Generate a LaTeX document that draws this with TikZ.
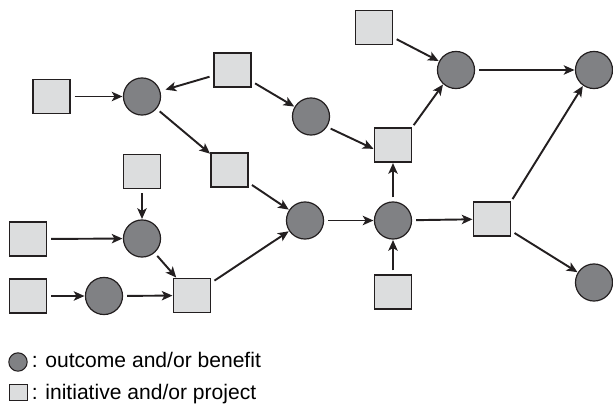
\documentclass[tikz,border=0pt]{standalone}
\usepackage{fontspec}
\setmainfont{Liberation Sans}
\usetikzlibrary{arrows.meta}
\definecolor{sqfill}{HTML}{DCDDDE}
\definecolor{cifill}{HTML}{808184}
\definecolor{edge}{HTML}{231F20}
\tikzset{
  sq/.style={draw=edge, line width=0.9pt, fill=sqfill, minimum width=27.8pt, minimum height=25.6pt, inner sep=0pt},
  ci/.style={circle, draw=edge, line width=0.9pt, fill=cifill, minimum size=27.8pt, inner sep=0pt},
  lsq/.style={draw=edge, line width=0.8pt, fill=sqfill, minimum width=13.6pt, minimum height=12.2pt, inner sep=0pt},
  lci/.style={circle, draw=edge, line width=0.8pt, fill=cifill, minimum size=13.8pt, inner sep=0pt},
  arr/.style={draw=edge, line width=1.45pt, -{Stealth[length=8pt,width=7pt,inset=2pt]}, shorten <=3pt, shorten >=0.3pt},
  lab/.style={anchor=base west, inner sep=0pt, font=\fontsize{15.8}{18}\selectfont}
}
\begin{document}
\begin{tikzpicture}[x=0.75pt,y=-0.75pt]
\useasboundingbox (0,0) rectangle (613,403);
% nodes
\node[sq] (A) at (51.5,96.5) {};
\node[ci] (C1) at (142,96.5) {};
\node[sq] (B) at (232.5,70) {};
\node[ci] (C2) at (311,116.5) {};
\node[sq] (D) at (229.5,170) {};
\node[sq] (E) at (142,171.5) {};
\node[sq] (F) at (374,27.5) {};
\node[ci] (C3) at (456,70) {};
\node[ci] (C4) at (594,70) {};
\node[sq] (G) at (393,145) {};
\node[sq] (H) at (28,239) {};
\node[ci] (C5) at (142,238.5) {};
\node[sq] (I) at (28,296) {};
\node[ci] (C6) at (104,296) {};
\node[sq] (J) at (192,295.5) {};
\node[ci] (C7) at (305,220.5) {};
\node[ci] (C8) at (393,220.5) {};
\node[sq] (K) at (492,219) {};
\node[sq] (L) at (393,292) {};
\node[ci] (C9) at (594,282.5) {};
% connectors
\draw[arr] (A) -- (C1);
\draw[arr, shorten >=4pt] (B) -- (C1);
\draw[arr] (B) -- (C2);
\draw[arr] (C1) -- (D);
\draw[arr] (D) -- (C7);
\draw[arr] (E) -- (C5);
\draw[arr] (H) -- (C5);
\draw[arr] (C5) -- (J);
\draw[arr] (I) -- (C6);
\draw[arr] (C6) -- (J);
\draw[arr] (J) -- (C7);
\draw[arr] (C7) -- (C8);
\draw[arr] (L) -- (C8);
\draw[arr] (C8) -- (G);
\draw[arr, shorten <=2pt] (G.north east) -- (C3.228);
\draw[arr] (C2.-33) -- ([yshift=-3pt]G.west);
\draw[arr] (F) -- (C3);
\draw[arr] (C3) -- (C4);
\draw[arr] (C8) -- (K);
\draw[arr, shorten <=2pt] (K.north east) -- (C4.235);
\draw[arr] (K) -- (C9);
% legend
\node[lci] (LC) at (18,362) {};
\node[lsq] (LS) at (18.5,392.5) {};
\node[lab] (T1) at (31.5,367) {: outcome and/or benefit};
\node[lab] (T2) at (31.5,399) {: initiative and/or project};
\end{tikzpicture}
\end{document}
